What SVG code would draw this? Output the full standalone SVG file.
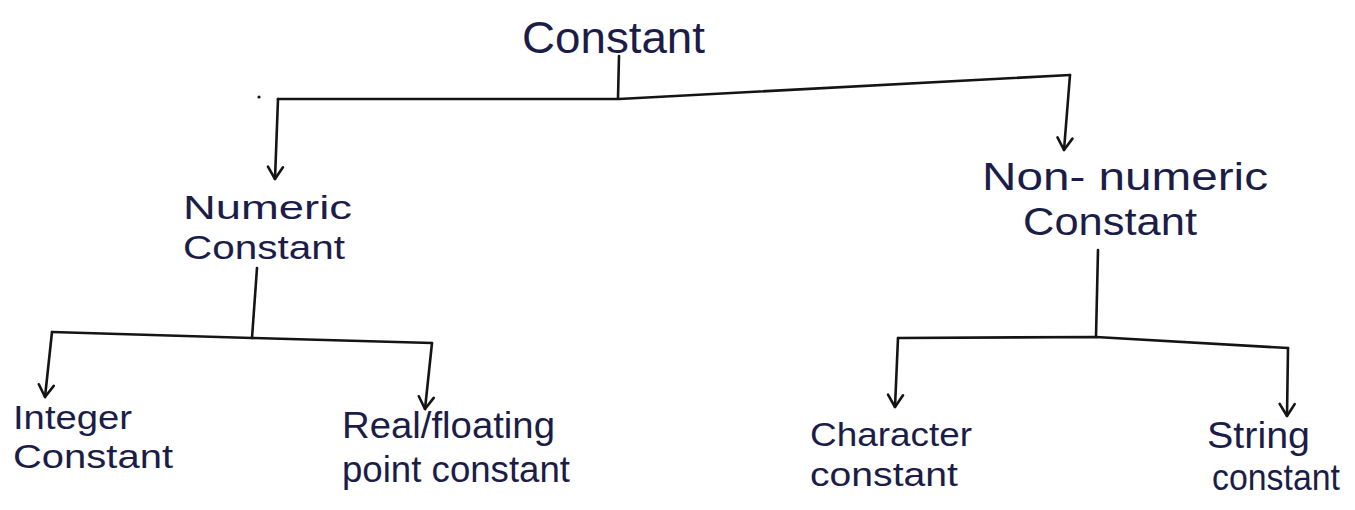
<svg xmlns="http://www.w3.org/2000/svg" width="1355" height="510" viewBox="0 0 1355 510">
  <style>
    .ink { fill: none; stroke: #141414; stroke-width: 2.6; stroke-linecap: round; stroke-linejoin: round; }
    .lbl { font-family: "Liberation Sans", "DejaVu Sans", sans-serif; fill: #1b1d48; }
  </style>
  <defs>
    <marker id="vhead" viewBox="-15 -10 17 20" markerWidth="17" markerHeight="20" refX="0" refY="0" orient="auto" markerUnits="userSpaceOnUse">
      <path d="M-12,-7.5 L0,0 L-12,7.5" fill="none" stroke="#141414" stroke-width="2.6" stroke-linecap="round" stroke-linejoin="round"/>
    </marker>
  </defs>

  <rect width="1355" height="510" fill="#ffffff"/>

  <!-- connectors: stems, branch bars and arrows -->
  <g id="connectors" class="ink">
    <path d="M619,56 L618,98"/>
    <path d="M278,99 L619,99 L1070,75"/>
    <path d="M278,99 L275,179" marker-end="url(#vhead)"/>
    <path d="M1070,75 L1064,150" marker-end="url(#vhead)"/>

    <path d="M257,268 L252,338"/>
    <path d="M52,332 L252,338 L432,343"/>
    <path d="M52,332 L45,397" marker-end="url(#vhead)"/>
    <path d="M432,343 L425,409" marker-end="url(#vhead)"/>

    <path d="M1098,250 L1096,337"/>
    <path d="M898,338 L1096,337 L1288,348"/>
    <path d="M898,338 L895,407" marker-end="url(#vhead)"/>
    <path d="M1288,348 L1287,416" marker-end="url(#vhead)"/>
  </g>
  <circle cx="259" cy="97" r="1.6" fill="#141414"/>

  <g id="node-constant">
    <text class="lbl" x="522" y="53" font-size="44" textLength="183" lengthAdjust="spacingAndGlyphs">Constant</text>
  </g>

  <g id="node-numeric">
    <text class="lbl" x="183" y="219" font-size="34" textLength="169" lengthAdjust="spacingAndGlyphs">Numeric</text>
    <text class="lbl" x="183" y="259" font-size="34" textLength="162" lengthAdjust="spacingAndGlyphs">Constant</text>
  </g>

  <g id="node-non-numeric">
    <text class="lbl" x="982" y="190" font-size="38" textLength="286" lengthAdjust="spacingAndGlyphs">Non- numeric</text>
    <text class="lbl" x="1023" y="235" font-size="38" textLength="174" lengthAdjust="spacingAndGlyphs">Constant</text>
  </g>

  <g id="node-integer">
    <text class="lbl" x="13" y="429" font-size="34" textLength="119" lengthAdjust="spacingAndGlyphs">Integer</text>
    <text class="lbl" x="13" y="468" font-size="34" textLength="160" lengthAdjust="spacingAndGlyphs">Constant</text>
  </g>

  <g id="node-real">
    <text class="lbl" x="342" y="438" font-size="36" textLength="213" lengthAdjust="spacingAndGlyphs">Real/floating</text>
    <text class="lbl" x="342" y="482" font-size="36" textLength="228" lengthAdjust="spacingAndGlyphs">point constant</text>
  </g>

  <g id="node-character">
    <text class="lbl" x="810" y="446" font-size="34" textLength="162" lengthAdjust="spacingAndGlyphs">Character</text>
    <text class="lbl" x="810" y="486" font-size="34" textLength="148" lengthAdjust="spacingAndGlyphs">constant</text>
  </g>

  <g id="node-string">
    <text class="lbl" x="1207" y="448" font-size="36" textLength="103" lengthAdjust="spacingAndGlyphs">String</text>
    <text class="lbl" x="1212" y="490" font-size="36" textLength="128" lengthAdjust="spacingAndGlyphs">constant</text>
  </g>
</svg>
